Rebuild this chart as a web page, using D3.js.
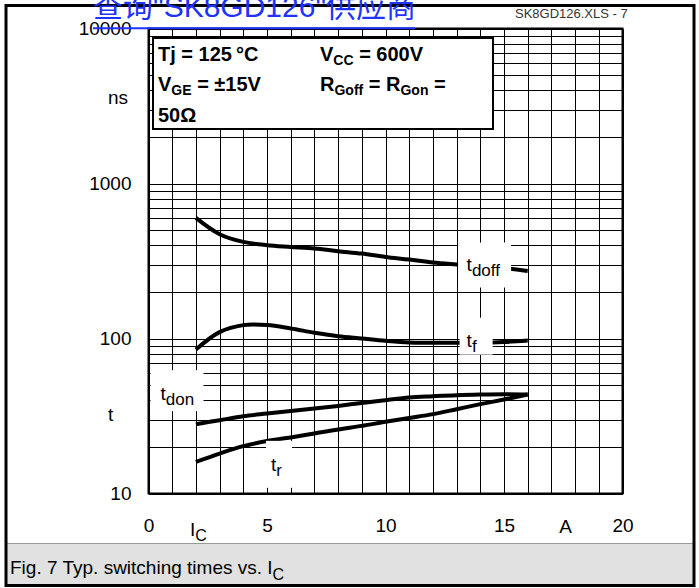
<!DOCTYPE html>
<html lang="en">
<head>
<meta charset="UTF-8">
<title>Typ. switching times vs. Ic</title>
<script src="https://d3js.org/d3.v7.min.js"></script>
<style>
body, html {
	margin: 0;
	padding: 0;
	background: white;
}
text {
	font-family: "Liberation Sans", Arial, Helvetica, sans-serif;
	fill: black;
}
.grid line {
	stroke: black;
	stroke-width: 1px;
	shape-rendering: crispEdges;
}
.grid path {
	display: none;
}
.curve {
	fill: none;
	stroke: black;
	stroke-width: 4px;
}
.tickLabel {
	font-size: 19px;
}
.legend {
	font-size: 20px;
	font-weight: bold;
}
.curveLabel {
	font-size: 19px;
}
.watermark {
	font-size: 30px;
	fill: #1f33ff;
	font-family: "Liberation Sans", "Noto Sans CJK SC", sans-serif;
}
</style>
</head>
<body>
<script>
// Ic in A, times in ns
var current = [2, 3, 4, 5, 6, 7, 8, 9, 10, 11, 12, 13, 14, 15, 16];
var tdoff = [600, 471, 420, 400, 390, 381, 366, 353, 336, 323, 309, 300, 292, 285, 273];
var tf = [85, 110, 122, 122, 116, 109, 103.5, 100, 96.6, 94.2, 94, 94, 94, 95, 97];
var tdon = [28, 29.7, 31.5, 32.8, 34.1, 35.3, 36.7, 38.4, 40, 41.6, 42.4, 43.1, 43.5, 43.7, 43.5];
var tr = [16, 18.1, 20.2, 21.8, 23, 24.4, 25.9, 27.3, 29, 30.7, 32.5, 35, 37.7, 40.4, 43.5];

var xTicks = [0, 5, 10, 15, 20];
var yTicks = [10, 100, 1000, 10000];

var w = 699;
var h = 588;

var svg = d3.select("body").append("svg")
	.attr("width", w)
	.attr("height", h);

var x = d3.scaleLinear().domain([0, 20]).range([148.5, 622.5]);
var y = d3.scaleLog().domain([10, 10000]).range([493.5, 28.5]);

var plotW = x(20) - x(0);
var plotH = y(10) - y(10000);

// outer frame + caption band
svg.append("rect")
	.attr("x", 7).attr("y", 543)
	.attr("width", 687).attr("height", 42)
	.style("fill", "#e1e1e1");
svg.append("line")
	.attr("x1", 7).attr("x2", 694).attr("y1", 543.5).attr("y2", 543.5)
	.style("stroke", "#999").style("stroke-width", 1);
svg.append("rect")
	.attr("x", 6).attr("y", 5.5)
	.attr("width", 688).attr("height", 580)
	.style("fill", "none").style("stroke", "black").style("stroke-width", 3);

svg.append("text")
	.attr("x", 10).attr("y", 574)
	.style("font-size", "19px")
	.text("Fig. 7 Typ. switching times vs. I")
	.append("tspan").attr("dy", 6).style("font-size", "16px").text("C");

svg.append("text")
	.attr("x", 515).attr("y", 18)
	.style("font-size", "13px").style("fill", "#333")
	.text("SK8GD126.XLS - 7");

// gridlines
svg.append("g")
	.attr("class", "grid")
	.attr("transform", "translate(0," + y(10) + ")")
	.call(d3.axisBottom(x).ticks(20).tickSize(-plotH).tickFormat(""));

svg.append("g")
	.attr("class", "grid")
	.attr("transform", "translate(" + x(0) + ",0)")
	.call(d3.axisLeft(y).tickSize(-plotW).tickFormat(""));

svg.append("rect")
	.attr("x", x(0)).attr("y", y(10000))
	.attr("width", plotW).attr("height", plotH)
	.style("fill", "none").style("stroke", "black").style("stroke-width", 2);

// curves
var line = d3.line()
	.x(function(d){ return x(d[0]); })
	.y(function(d){ return y(d[1]); })
	.curve(d3.curveCatmullRom.alpha(0.5));

[tdoff, tf, tdon, tr].forEach(function(series){
	svg.append("path")
		.datum(current.map(function(c, i){ return [c, series[i]]; }))
		.attr("class", "curve")
		.attr("d", line);
});

// curve labels with white backing
function curveLabel(x0, y0, bw, bh, tx, ty, sub){
	svg.append("rect")
		.attr("x", x0).attr("y", y0)
		.attr("width", bw).attr("height", bh)
		.style("fill", "white");
	var t = svg.append("text")
		.attr("class", "curveLabel")
		.attr("x", tx).attr("y", ty)
		.text("t");
	t.append("tspan").attr("dy", 5).style("font-size", "17px").text(sub);
}

curveLabel(x(13) + 1.5, y(300) - 22, 53, 45, x(13) + 10, y(300) + 6, "doff");
curveLabel(x(13) + 3, y(94) - 25, 33, 37, x(13) + 10, y(94) + 4, "f");
curveLabel(x(0) + 2, y(40) - 30, 53, 41, x(0) + 12, y(40), "don");
curveLabel(x(5) - 1, y(20) - 6, 26, 47, x(5) + 4, y(20) + 24, "r");

// legend box
svg.append("rect")
	.attr("x", 153).attr("y", 38)
	.attr("width", 340).attr("height", 91)
	.style("fill", "white").style("stroke", "black").style("stroke-width", 2);

var lg = svg.append("g").attr("class", "legend");
lg.append("text").attr("x", 158).attr("y", 61).text("Tj = 125\u2009\u00b0C");
var vc = lg.append("text").attr("x", 320).attr("y", 61).text("V");
vc.append("tspan").attr("dy", 4).style("font-size", "14px").text("CC");
vc.append("tspan").attr("dy", -4).text(" = 600V");
var vg = lg.append("text").attr("x", 158).attr("y", 91).text("V");
vg.append("tspan").attr("dy", 4).style("font-size", "14px").text("GE");
vg.append("tspan").attr("dy", -4).text(" = \u00b115V");
var rg = lg.append("text").attr("x", 320).attr("y", 91).text("R");
rg.append("tspan").attr("dy", 4).style("font-size", "14px").text("Goff");
rg.append("tspan").attr("dy", -4).text(" = R");
rg.append("tspan").attr("dy", 4).style("font-size", "14px").text("Gon");
rg.append("tspan").attr("dy", -4).text(" =");
lg.append("text").attr("x", 158).attr("y", 122).text("50\u03a9");

// axis labels
var yAxis = d3.axisLeft(y).tickValues(yTicks).tickSize(0).tickPadding(17)
	.tickFormat(d3.format("d"));
var gy = svg.append("g")
	.attr("transform", "translate(" + x(0) + ",0)")
	.call(yAxis);
gy.select(".domain").remove();
gy.selectAll("text").attr("class", "tickLabel").attr("font-family", null).attr("font-size", null).attr("fill", null);

var xAxis = d3.axisBottom(x).tickValues(xTicks).tickSize(0).tickPadding(25)
	.tickFormat(d3.format("d"));
var gx = svg.append("g")
	.attr("transform", "translate(0," + y(10) + ")")
	.call(xAxis);
gx.select(".domain").remove();
gx.selectAll("text").attr("class", "tickLabel").attr("font-family", null).attr("font-size", null).attr("fill", null);

svg.append("text").attr("class", "tickLabel")
	.attr("x", 128).attr("y", 104).style("text-anchor", "end").text("ns");
svg.append("text").attr("class", "tickLabel")
	.attr("x", 108).attr("y", 421).text("t");
svg.append("text").attr("class", "tickLabel")
	.attr("x", x(17.6)).attr("y", 533).style("text-anchor", "middle").text("A");
svg.append("text").attr("class", "tickLabel")
	.attr("x", 190).attr("y", 536).text("I")
	.append("tspan").attr("dy", 5).style("font-size", "16px").text("C");

// link watermark across the top
svg.append("text").attr("class", "watermark")
	.attr("x", 93).attr("y", 17)
	.text("\u67e5\u8be2\"SK8GD126\"\u4f9b\u5e94\u5546");
svg.append("line")
	.attr("x1", 93).attr("x2", 415).attr("y1", 28.3).attr("y2", 28.3)
	.style("stroke", "#1f33ff").style("stroke-width", 2);
</script>
</body>
</html>
